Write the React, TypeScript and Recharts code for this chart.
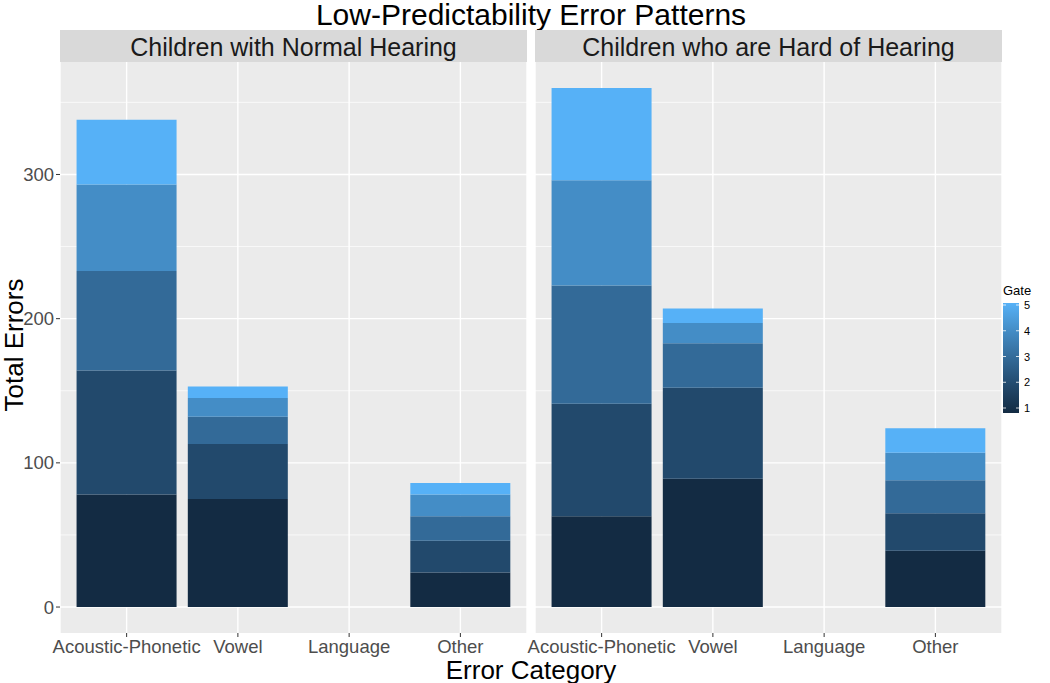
import React from "react";
import { BarChart, Bar, XAxis, YAxis, CartesianGrid } from "recharts";

const categories = ["Acoustic-Phonetic", "Vowel", "Language", "Other"];
const gates = [1, 2, 3, 4, 5];
const gateColors = ["#132B43", "#22496C", "#336A98", "#448DC6", "#56B1F7"];

// errors per gate, one list per category (gate 1..5)
const normalAcoustic = [78, 86, 69, 60, 45];
const normalVowel = [75, 38, 19, 13, 8];
const normalLanguage = [0, 0, 0, 0, 0];
const normalOther = [24, 22, 17, 15, 8];

const hohAcoustic = [63, 78, 82, 73, 64];
const hohVowel = [89, 63, 31, 14, 10];
const hohLanguage = [0, 0, 0, 0, 0];
const hohOther = [39, 26, 23, 19, 17];

const yTicks = [0, 100, 200, 300];
const yMinor = [50, 150, 250, 350];
const legendTicks = [5, 4, 3, 2, 1];

const build = (rows: number[][]) =>
  categories.map((c, i) => {
    const row: Record<string, string | number> = { category: c };
    gates.forEach((g, j) => (row[`g${g}`] = rows[i][j]));
    return row;
  });

const normalData = build([normalAcoustic, normalVowel, normalLanguage, normalOther]);
const hohData = build([hohAcoustic, hohVowel, hohLanguage, hohOther]);

const FONT = "'Liberation Sans', Arial, sans-serif";
const tickStyle = { fontSize: 18.5, fill: "#4D4D4D", fontFamily: FONT };

function Panel({ data, showY, width, left }: { data: any[]; showY: boolean; width: number; left: number }) {
  return (
    <BarChart
      width={width}
      height={683}
      data={data}
      margin={{ top: 62, right: 0, bottom: 0, left }}
      barCategoryGap="5%"
    >
      <CartesianGrid fill="#EBEBEB" stroke="#FFFFFF" strokeWidth={0.7} horizontalValues={yMinor} vertical={false} />
      <CartesianGrid stroke="#FFFFFF" strokeWidth={1.4} horizontalValues={yTicks} />
      <XAxis
        dataKey="category"
        height={50}
        padding={{ left: 11, right: 11 }}
        axisLine={false}
        tickLine={{ stroke: "#333333" }}
        tickSize={4}
        tickMargin={3}
        tick={tickStyle}
        interval={0}
      />
      <YAxis
        hide={!showY}
        width={60}
        domain={[-18, 378]}
        allowDataOverflow
        ticks={yTicks}
        axisLine={false}
        tickLine={{ stroke: "#333333" }}
        tickSize={4}
        tickMargin={2}
        tick={tickStyle}
      />
      {gates.map((g, i) => (
        <Bar key={g} dataKey={`g${g}`} stackId="a" fill={gateColors[i]} isAnimationActive={false} />
      ))}
    </BarChart>
  );
}

export default function App() {
  const abs = (l: number, t: number): React.CSSProperties => ({ position: "absolute", left: l, top: t });
  return (
    <div style={{ position: "absolute", left: 0, top: 0, width: 1050, height: 683, background: "#fff", fontFamily: FONT }}>
      <div style={abs(0, 0)}>
        <Panel data={normalData} showY width={527} left={0} />
      </div>
      <div style={abs(495, 0)}>
        <Panel data={hohData} showY={false} width={507} left={40} />
      </div>
      <div style={{ ...abs(60, 0), width: 942, textAlign: "center", fontSize: 30, lineHeight: "30px", color: "#000" }}>
        Low-Predictability Error Patterns
      </div>
      <div style={{ ...abs(60, 30), width: 467, height: 32, background: "#D9D9D9", textAlign: "center", fontSize: 25, lineHeight: "34px", color: "#1A1A1A" }}>
        Children with Normal Hearing
      </div>
      <div style={{ ...abs(535, 30), width: 467, height: 32, background: "#D9D9D9", textAlign: "center", fontSize: 25, lineHeight: "34px", color: "#1A1A1A" }}>
        Children who are Hard of Hearing
      </div>
      <div
        style={{
          ...abs(14, 345),
          transform: "translate(-50%, -50%) rotate(-90deg)",
          fontSize: 26,
          whiteSpace: "nowrap",
          color: "#000",
        }}
      >
        Total Errors
      </div>
      <div style={{ ...abs(60, 655), width: 942, textAlign: "center", fontSize: 26, lineHeight: "30px", color: "#000" }}>
        Error Category
      </div>
      <div style={{ ...abs(1003, 283), fontSize: 13, color: "#000" }}>Gate</div>
      <svg style={abs(1000, 300)} width={50} height={115}>
        <defs>
          <linearGradient id="gate" x1="0" y1="1" x2="0" y2="0">
            {gateColors.map((c, i) => (
              <stop key={c} offset={`${i * 25}%`} stopColor={c} />
            ))}
          </linearGradient>
        </defs>
        <rect x={3} y={3} width={16} height={110} fill="url(#gate)" />
        {legendTicks.map((t) => {
          const y = 5 + (5 - t) * 25.75;
          return (
            <g key={t}>
              <line x1={3} x2={6} y1={y} y2={y} stroke="#fff" strokeWidth={0.8} />
              <line x1={16} x2={19} y1={y} y2={y} stroke="#fff" strokeWidth={0.8} />
              <text x={24} y={y + 4} fontSize={11} fill="#000" fontFamily={FONT}>
                {t}
              </text>
            </g>
          );
        })}
      </svg>
    </div>
  );
}
